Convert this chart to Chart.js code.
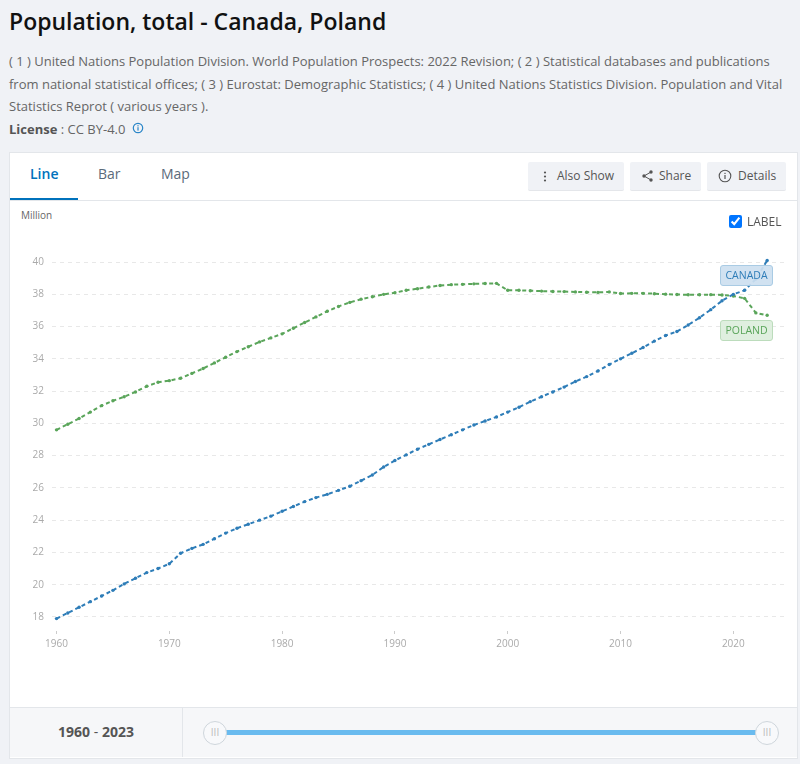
<!DOCTYPE html>
<html><head><meta charset="utf-8">
<script src="https://cdn.jsdelivr.net/npm/chart.js@4"></script>
<style>
html,body{margin:0;padding:0;background:#f0f2f6;font-family:"Open Sans",sans-serif;overflow:hidden}
body{width:800px;height:764px;position:relative}
.abs{position:absolute;white-space:nowrap}
.desc{left:9px;font-size:13px;color:#666;line-height:22px}
.card{left:9px;top:152px;width:787px;height:605px;background:#fff;border:1px solid #e3e6ea;box-sizing:content-box}
.tab{font-size:14px;line-height:20px;top:164px;color:#5b6b7a}
.btn{top:162px;height:29px;background:#f0f2f6;border-bottom:1px solid #e4e6ea;border-radius:2px;font-size:12px;color:#555;line-height:28px;box-sizing:border-box}
.lab{left:720px;width:51px;height:19px;border-radius:3px;font-size:10.5px;line-height:19px;text-align:center}
.handle{width:22px;height:22px;border-radius:50%;background:#f8f9fb;border:1.5px solid #cfd6dc;top:721px;color:#bbb;font-size:10px;line-height:21px;text-align:center}
</style></head><body>
<div class="abs" style="left:9px;top:5px;font-size:23px;font-weight:600;color:#111;line-height:32px">Population, total - Canada, Poland</div>
<div class="abs desc" style="top:50px">( 1 ) United Nations Population Division. World Population Prospects: 2022 Revision; ( 2 ) Statistical databases and publications</div>
<div class="abs desc" style="top:73px">from national statistical offices; ( 3 ) Eurostat: Demographic Statistics; ( 4 ) United Nations Statistics Division. Population and Vital</div>
<div class="abs desc" style="top:95px">Statistics Reprot ( various years ).</div>
<div class="abs desc" style="top:118px"><b style="color:#555">License</b> : CC BY-4.0</div>
<svg class="abs" style="left:132px;top:122px" width="12" height="12" viewBox="0 0 12 12"><circle cx="6" cy="6" r="4.7" fill="none" stroke="#2a86c8" stroke-width="1.2"/><rect x="5.4" y="5.2" width="1.2" height="3.4" fill="#2a86c8"/><rect x="5.4" y="3.2" width="1.2" height="1.2" fill="#2a86c8"/></svg>

<div class="abs card"></div>
<div class="abs" style="left:10px;top:200px;width:787px;height:1px;background:#e3e6ea"></div>
<div class="abs" style="left:10px;top:198px;width:68px;height:2px;background:#0072bc"></div>
<div class="abs tab" style="left:30px;color:#0072bc;font-weight:600">Line</div>
<div class="abs tab" style="left:98px">Bar</div>
<div class="abs tab" style="left:161px">Map</div>

<div class="abs btn" style="left:528px;width:96px;padding-left:29px">Also Show</div>
<svg class="abs" style="left:541px;top:170px" width="8" height="13"><circle cx="4" cy="2.5" r="1.1" fill="#555"/><circle cx="4" cy="6.5" r="1.1" fill="#555"/><circle cx="4" cy="10.5" r="1.1" fill="#555"/></svg>
<div class="abs btn" style="left:630px;width:71px;padding-left:29px">Share</div>
<svg class="abs" style="left:641px;top:169px" width="13" height="14"><path d="M10 3 L3 7 L10 11" fill="none" stroke="#555" stroke-width="1"/><circle cx="10" cy="3" r="1.7" fill="#555"/><circle cx="3" cy="7" r="1.7" fill="#555"/><circle cx="10" cy="11" r="1.7" fill="#555"/></svg>
<div class="abs btn" style="left:707px;width:79px;padding-left:31px">Details</div>
<svg class="abs" style="left:718px;top:169px" width="14" height="14"><circle cx="7" cy="7" r="5.8" fill="none" stroke="#555" stroke-width="1.1"/><rect x="6.4" y="6" width="1.2" height="4" fill="#555"/><rect x="6.4" y="3.8" width="1.2" height="1.2" fill="#555"/></svg>

<div class="abs" style="left:21px;top:208px;font-size:10px;color:#666;line-height:14px">Million</div>
<div class="abs" style="left:10px;top:201px;width:787px;height:506px"><canvas id="c" width="787" height="506" style="display:block;width:787px;height:506px"></canvas></div>
<input class="abs" type="checkbox" checked style="left:729px;top:215px;width:13px;height:13px;margin:0;accent-color:#0075ff">
<div class="abs" style="left:747px;top:214px;font-size:12px;color:#555;line-height:16px">LABEL</div>

<div class="abs lab" style="top:265px;background:rgba(205,224,240,.92);border:1px solid #a9cbe4;color:#2e7db8">CANADA</div>
<div class="abs lab" style="top:320px;background:rgba(220,238,220,.92);border:1px solid #bcdcbc;color:#5aa55a">POLAND</div>

<div class="abs" style="left:10px;top:707px;width:787px;height:50px;background:#f6f7f9;border-top:1px solid #e3e6ea;box-sizing:border-box"></div>
<div class="abs" style="left:182px;top:708px;width:1px;height:49px;background:#e3e6ea"></div>
<div class="abs" style="left:10px;width:172px;top:722px;text-align:center;font-size:14px;font-weight:700;color:#555;line-height:20px">1960 <span style="font-weight:400">-</span> 2023</div>
<div class="abs" style="left:226px;top:730px;width:530px;height:5px;background:#6abbef"></div>
<div class="abs handle" style="left:203px">III</div>
<div class="abs handle" style="left:755px">III</div>

<script>
const years = [];
for (let y = 1960; y <= 2023; y++) years.push(y);
const canada = [17.9,18.25,18.6,18.95,19.3,19.65,20.05,20.4,20.75,21.0,21.3,21.95,22.25,22.5,22.85,23.2,23.5,23.75,24.0,24.25,24.55,24.85,25.15,25.4,25.6,25.85,26.1,26.45,26.8,27.3,27.7,28.05,28.4,28.7,29.0,29.3,29.6,29.9,30.15,30.4,30.7,31.0,31.35,31.65,31.95,32.25,32.6,32.9,33.25,33.65,34.0,34.35,34.7,35.1,35.45,35.7,36.1,36.55,37.05,37.6,38.0,38.25,38.95,40.1];
const poland = [29.6,29.95,30.3,30.7,31.1,31.4,31.65,31.95,32.3,32.55,32.65,32.8,33.1,33.4,33.75,34.1,34.45,34.75,35.05,35.3,35.55,35.9,36.25,36.6,36.95,37.25,37.5,37.7,37.85,38.0,38.1,38.25,38.35,38.45,38.55,38.6,38.62,38.65,38.67,38.68,38.25,38.25,38.22,38.2,38.18,38.17,38.15,38.13,38.12,38.15,38.05,38.06,38.06,38.04,38.01,37.99,37.97,37.97,37.98,37.96,37.9,37.75,36.85,36.7];
const yTicks = [18,20,22,24,26,28,30,32,34,36,38,40];
const xTicks = [1960,1970,1980,1990,2000,2010,2020];
const seriesStyle = (name, vals, color) => ({
  label: name,
  data: vals.map((v, i) => ({x: years[i], y: v})),
  borderColor: color, backgroundColor: color,
  borderWidth: 2, borderDash: [4, 3],
  pointRadius: 1.7, pointBorderWidth: 0, pointHoverRadius: 2, tension: 0
});
new Chart(document.getElementById('c'), {
  type: 'line',
  data: {datasets: [seriesStyle('Canada', canada, '#2e7db8'), seriesStyle('Poland', poland, '#5aa55a')]},
  options: {
    responsive: false, animation: false,
    layout: {padding: {top: 53, right: 11, left: 0, bottom: 0}},
    plugins: {legend: {display: false}, tooltip: {enabled: false}},
    scales: {
      x: {
        type: 'linear', min: 1959.6, max: 2024.67,
        afterBuildTicks: s => { s.ticks = xTicks.map(v => ({value: v})); },
        afterFit: s => { s.height = 76; },
        border: {display: false},
        grid: {drawOnChartArea: false, drawTicks: true, tickLength: 3, tickColor: '#ccc'},
        ticks: {callback: v => String(v), maxRotation: 0, autoSkip: false, padding: 4, font: {family: '"Open Sans"', size: 10}, color: '#aaa'}
      },
      y: {
        min: 17.13, max: 40.5,
        afterBuildTicks: s => { s.ticks = yTicks.map(v => ({value: v})); },
        afterFit: s => { s.width = 42; },
        border: {display: false, dash: [4, 4]},
        grid: {color: '#e8e8e8', drawTicks: false, lineWidth: 1},
        ticks: {padding: 8, font: {family: '"Open Sans"', size: 10}, color: '#aaa'}
      }
    }
  }
});
</script>
</body></html>
